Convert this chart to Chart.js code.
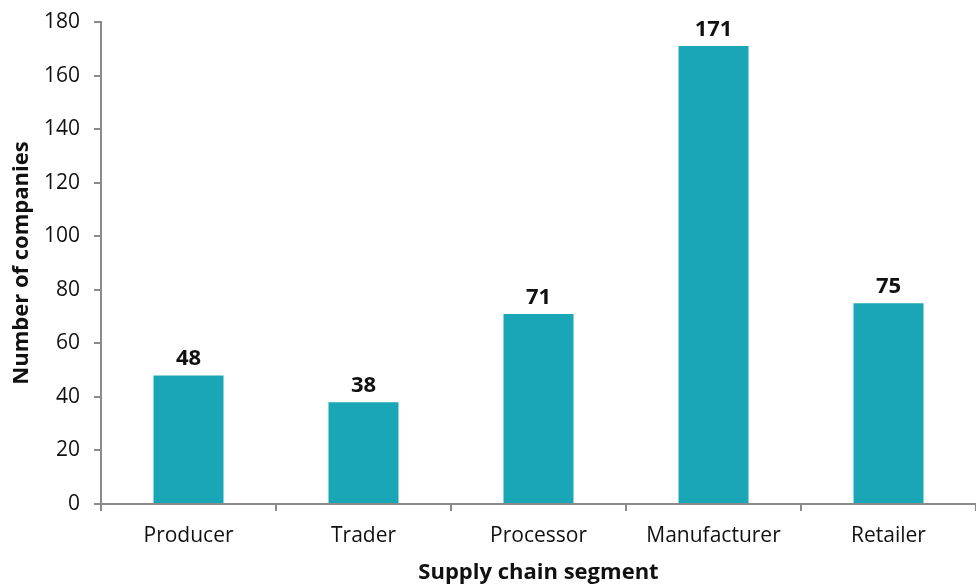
<!DOCTYPE html>
<html>
<head>
<meta charset="utf-8">
<script src="https://cdn.jsdelivr.net/npm/chart.js@4"></script>
<style>
  html, body { margin: 0; padding: 0; background: #fff; }
  #wrap { width: 976px; height: 586px; }
</style>
</head>
<body>
<div id="wrap"><canvas id="c" width="976" height="586"></canvas></div>
<script>
const segments = ['Producer', 'Trader', 'Processor', 'Manufacturer', 'Retailer'];
const companyCounts = [48, 38, 71, 171, 75];
const yTicks = [0, 20, 40, 60, 80, 100, 120, 140, 160, 180];

const FONT = '"Open Sans", Lato, sans-serif';
const AXIS = '#8a8a8a';
const BAR = '#19a7b8';

// value labels above each bar
const valueLabels = {
  id: 'valueLabels',
  afterDatasetsDraw(chart) {
    const ctx = chart.ctx;
    const meta = chart.getDatasetMeta(0);
    ctx.save();
    ctx.font = 'bold 22px ' + FONT;
    ctx.fillStyle = '#111';
    ctx.textAlign = 'center';
    ctx.textBaseline = 'alphabetic';
    meta.data.forEach((bar, i) => {
      ctx.fillText(String(companyCounts[i]), bar.x, bar.y - 10);
    });
    ctx.restore();
  }
};

new Chart(document.getElementById('c'), {
  type: 'bar',
  data: {
    labels: segments,
    datasets: [{
      data: companyCounts,
      backgroundColor: BAR,
      barPercentage: 0.4,
      categoryPercentage: 1.0
    }]
  },
  options: {
    responsive: false,
    animation: false,
    layout: { padding: 0 },
    plugins: { legend: { display: false }, tooltip: { enabled: false } },
    scales: {
      x: {
        offset: true,
        grid: { display: true, drawOnChartArea: false, drawTicks: true, tickLength: 7, color: AXIS, lineWidth: 2, offset: true },
        border: { display: true, color: AXIS, width: 2 },
        ticks: { color: '#111', font: { family: FONT, size: 21 }, padding: 12 },
        title: { display: true, text: 'Supply chain segment', color: '#111', font: { family: FONT, size: 22, weight: 'bold' }, padding: { top: 0, bottom: 0 } },
        afterFit(scale) { scale.height = 82; scale.paddingLeft = 0; scale.paddingRight = 0; }
      },
      y: {
        min: 0, max: 180,
        afterBuildTicks(scale) { scale.ticks = yTicks.map(v => ({ value: v })); },
        grid: { display: true, drawOnChartArea: false, drawTicks: true, tickLength: 7, color: AXIS, lineWidth: 2 },
        border: { display: true, color: AXIS, width: 2 },
        ticks: { color: '#111', font: { family: FONT, size: 21 }, padding: 14 },
        title: { display: true, text: 'Number of companies', color: '#111', font: { family: FONT, size: 22, weight: 'bold' }, padding: { top: 9, bottom: 6 } },
        afterFit(scale) { scale.width = 101; scale.paddingTop = 22; scale.paddingBottom = 0; }
      }
    }
  },
  plugins: [valueLabels]
});
</script>
</body>
</html>
